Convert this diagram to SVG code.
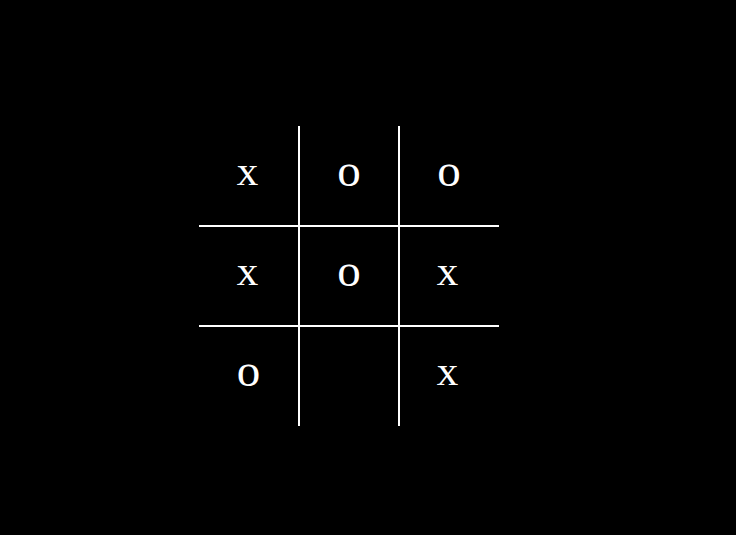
<svg xmlns="http://www.w3.org/2000/svg" width="736" height="535" viewBox="0 0 736 535">
<style>
.g{stroke:#fff;stroke-width:2;fill:none}
.m{fill:#fff;font-family:"Liberation Serif","Times New Roman",serif;text-anchor:middle}
.x{font-size:43px}
.o{font-size:47px}
</style>
<rect width="736" height="535" fill="#000"/>
<g id="grid" class="g">
<line x1="299" y1="126" x2="299" y2="426"/>
<line x1="399" y1="126" x2="399" y2="426"/>
<line x1="199" y1="226" x2="499" y2="226"/>
<line x1="199" y1="326" x2="499" y2="326"/>
</g>
<g id="c11"><text class="m x" x="247.5" y="184.5">x</text></g>
<g id="c12"><text class="m o" x="349" y="186">o</text></g>
<g id="c13"><text class="m o" x="449" y="186">o</text></g>
<g id="c21"><text class="m x" x="247.5" y="284.5">x</text></g>
<g id="c22"><text class="m o" x="349" y="286">o</text></g>
<g id="c23"><text class="m x" x="447.5" y="284.5">x</text></g>
<g id="c31"><text class="m o" x="248.5" y="386">o</text></g>
<g id="c33"><text class="m x" x="447.5" y="384.5">x</text></g>
</svg>
